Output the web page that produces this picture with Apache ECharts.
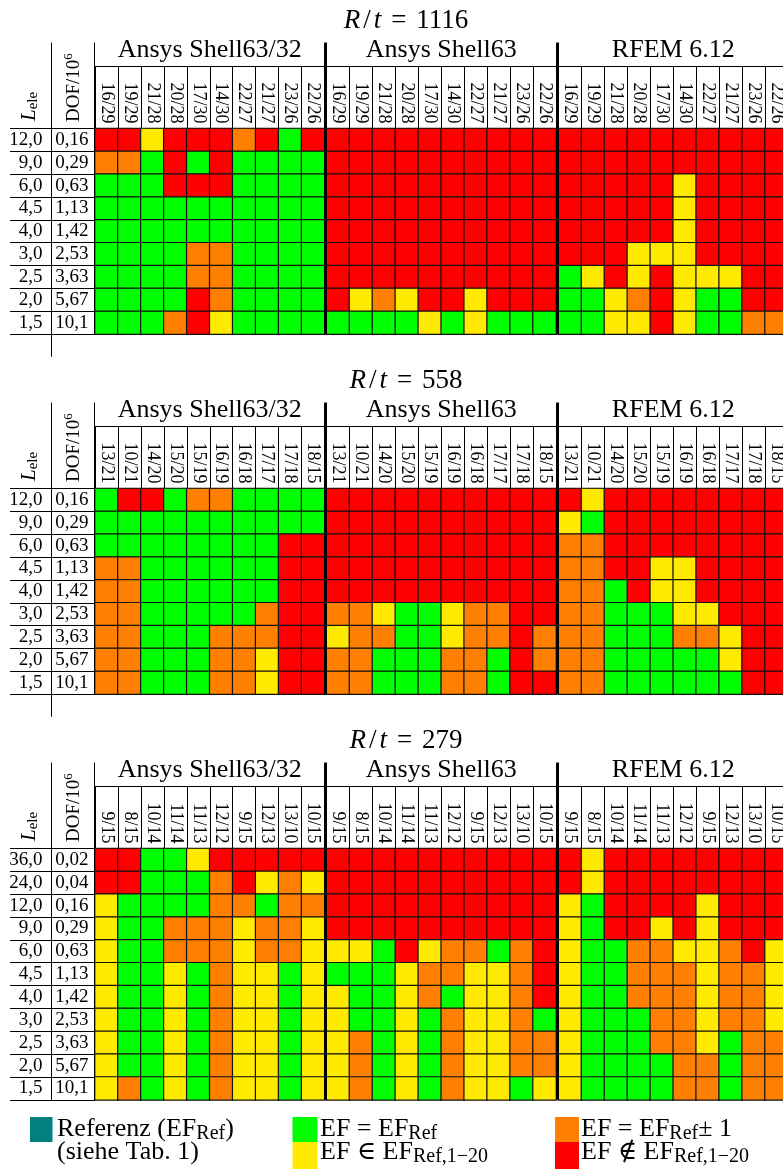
<!DOCTYPE html>
<html>
<head>
<meta charset="utf-8">
<script src="https://cdn.jsdelivr.net/npm/echarts@6/dist/echarts.min.js"></script>
<style>
html, body { margin: 0; padding: 0; background: #fff; }
#main { width: 783px; height: 1171px; }
</style>
</head>
<body>
<div id="main"></div>
<script>
// Ergebnis-Matrizen: G = EF gleich Referenz, Y = in EF 1-20, O = Referenz +-1, R = nicht in 1-20

var groups = ['Ansys Shell63/32', 'Ansys Shell63', 'RFEM 6.12'];

var lele9 = ['12,0', '9,0', '6,0', '4,5', '4,0', '3,0', '2,5', '2,0', '1,5'];
var dof9 = ['0,16', '0,29', '0,63', '1,13', '1,42', '2,53', '3,63', '5,67', '10,1'];
var lele11 = ['36,0', '24,0', '12,0', '9,0', '6,0', '4,5', '4,0', '3,0', '2,5', '2,0', '1,5'];
var dof11 = ['0,02', '0,04', '0,16', '0,29', '0,63', '1,13', '1,42', '2,53', '3,63', '5,67', '10,1'];

var cols1116 = ['16/29', '19/29', '21/28', '20/28', '17/30', '14/30', '22/27', '21/27', '23/26', '22/26'];
var cols558 = ['13/21', '10/21', '14/20', '15/20', '15/19', '16/19', '16/18', '17/17', '17/18', '18/15'];
var cols279 = ['9/15', '8/15', '10/14', '11/14', '11/13', '12/12', '9/15', '12/13', '13/10', '10/15'];

// R/t = 1116
var rt1116_shell6332 = ['RRYRRRORGR', 'OOGRGRGGGG', 'GGGRRRGGGG', 'GGGGGGGGGG', 'GGGGGGGGGG',
	'GGGGOOGGGG', 'GGGGOOGGGG', 'GGGGROGGGG', 'GGGORYGGGG'];
var rt1116_shell63 = ['RRRRRRRRRR', 'RRRRRRRRRR', 'RRRRRRRRRR', 'RRRRRRRRRR', 'RRRRRRRRRR',
	'RRRRRRRRRR', 'RRRRRRRRRR', 'RYOYRRYRRR', 'GGGGYGYGGG'];
var rt1116_rfem = ['RRRRRRRRRR', 'RRRRRRRRRR', 'RRRRRYRRRR', 'RRRRRYRRRR', 'RRRRRYRRRR',
	'RRRYYYRRRR', 'GYRYRYYYRR', 'GGYORYGGRR', 'GGYYRYGGOO'];

// R/t = 558
var rt558_shell6332 = ['GRRGOOGGGG', 'GGGGGGGGGG', 'GGGGGGGGRR', 'OOGGGGGGRR', 'OOGGGGGGRR',
	'OOGGGGGORR', 'OOGGGOOORR', 'OOGGGOOYRR', 'OOGGGOOYRR'];
var rt558_shell63 = ['RRRRRRRRRR', 'RRRRRRRRRR', 'RRRRRRRRRR', 'RRRRRRRRRR', 'RRRRRRRRRR',
	'OOYGGYOORR', 'YOOGGYOORO', 'OOGGGOOGRO', 'OOGGGOOGRR'];
var rt558_rfem = ['RYRRRRRRRR', 'YGRRRRRRRR', 'OORRRRRRRR', 'OORRYYRRRR', 'OOGRYYRRRR',
	'OOGGGYYRRR', 'OOGGGOOYRR', 'OOGGGGGYRR', 'OOGGGGGGRR'];

// R/t = 279
var rt279_shell6332 = ['RRGGYRRRRR', 'RRGGGORYOY', 'YGGGGOOGOO', 'YGGOOOYOOY', 'YGGOOOYOOY',
	'YGGYGOYYGY', 'YGGYGOYYGY', 'YGGYGOYYGY', 'YGGYGOYYGY', 'YGGYGOYYGY', 'YOGYGOYYGY'];
var rt279_shell63 = ['RRRRRRRRRR', 'RRRRRRRRRR', 'RRRRRRRRRR', 'RRRRRRRRRR', 'YYGRYOOGOR',
	'GGGYOOYYOR', 'YGGYOGYYOR', 'YGGYGOYYOG', 'YOGYGOYYOO', 'YOGYGOYYOO', 'YOGYGOYYGY'];
var rt279_rfem = ['RYRRRRRRRR', 'RYRRRRRRRR', 'YGRRRRYRRR', 'YGRRYRYRRR', 'YGGOOYYORY',
	'YGGOOOYOOY', 'YGGOOOYOOY', 'YGGGOOYOOY', 'YGGGOOYGOO', 'YGGGGOOGOO', 'YGGGGOOGOO'];

var panels = [
	{ rt: '1116', cols: cols1116, lele: lele9, dof: dof9, cells: [rt1116_shell6332, rt1116_shell63, rt1116_rfem], tail: 22.5 },
	{ rt: '558', cols: cols558, lele: lele9, dof: dof9, cells: [rt558_shell6332, rt558_shell63, rt558_rfem], tail: 22.5 },
	{ rt: '279', cols: cols279, lele: lele11, dof: dof11, cells: [rt279_shell6332, rt279_shell63, rt279_rfem], tail: 0 }
];

var SERIF = "'Liberation Serif', 'DejaVu Serif', serif";
var codeOf = { G: 0, Y: 1, O: 2, R: 3 };
var GREEN = '#00ff00', YELLOW = '#ffea00', ORANGE = '#ff8000', RED = '#ff0000', TEAL = '#008080';

// Layout
var PANEL_TOP = [0, 360, 720];
var GRID_LEFT = [95, 326.5, 558.5];
var GRID_W = 229.5;
var ROW_H = 22.85;
var RULE_TOP = 42.5;
var HEAD_LINE = 66.5;
var TABLE_TOP = 128.5;

function cellData(rows) {
	var out = [];
	for (var r = 0; r < rows.length; r++) {
		for (var c = 0; c < rows[r].length; c++) {
			out.push([c, r, codeOf[rows[r].charAt(c)]]);
		}
	}
	return out;
}

function vline(x, y1, y2, w) {
	return {
		type : 'line',
		z : 100,
		shape : { x1 : x, y1 : y1, x2 : x, y2 : y2 },
		style : { stroke : '#000', lineWidth : w || 1 }
	};
}

var grids = [], xAxes = [], yAxes = [], series = [], titles = [], graphics = [];

panels.forEach(function(p, pi) {
	var T = PANEL_TOP[pi];
	var tableH = p.lele.length * ROW_H;
	var bottom = T + TABLE_TOP + tableH;

	titles.push({
		text : '{i|R}{sl|/}{i|t}{eq|=}' + p.rt,
		left : 401,
		top : T + 2,
		textAlign : 'center',
		textStyle : {
			fontFamily : SERIF,
			fontSize : 27,
			fontWeight : 'normal',
			color : '#000',
			rich : {
				i : { fontFamily : SERIF, fontSize : 27, fontStyle : 'italic', color : '#000' },
				sl : { fontFamily : SERIF, fontSize : 27, color : '#000', padding : [0, 3, 0, 3] },
				eq : { fontFamily : SERIF, fontSize : 27, color : '#000', padding : [0, 10, 0, 10] }
			}
		}
	});

	for (var g = 0; g < 3; g++) {
		var gi = grids.length;
		grids.push({
			left : GRID_LEFT[g],
			top : T + TABLE_TOP,
			width : GRID_W,
			height : tableH,
			outerBoundsMode : 'none',
			containLabel : false
		});

		var xi = xAxes.length;
		xAxes.push({
			type : 'category',
			gridIndex : gi,
			position : 'top',
			data : p.cols,
			axisLine : { show : true, lineStyle : { color : '#000', width : 1 } },
			axisTick : { show : true, interval : 0, length : TABLE_TOP - HEAD_LINE, lineStyle : { color : '#000', width : 1 } },
			axisLabel : { interval : 0, rotate : 90, margin : 5, fontFamily : SERIF, fontSize : 18, color : '#000' },
			splitLine : { show : false }
		});
		xAxes.push({
			type : 'category',
			gridIndex : gi,
			position : 'top',
			offset : TABLE_TOP - HEAD_LINE,
			data : p.cols,
			axisLine : { show : true, lineStyle : { color : '#000', width : 1 } },
			axisTick : { show : false },
			axisLabel : { show : false },
			splitLine : { show : false },
			name : groups[g],
			nameLocation : 'middle',
			nameGap : 3,
			nameTextStyle : { fontFamily : SERIF, fontSize : 26, color : '#000' }
		});

		var yi = yAxes.length;
		if (g === 0) {
			yAxes.push({
				type : 'category',
				gridIndex : gi,
				position : 'left',
				inverse : true,
				data : p.dof,
				axisLine : { show : false },
				axisTick : { show : true, interval : 0, length : 85, lineStyle : { color : '#000', width : 1 } },
				axisLabel : { interval : 0, margin : 6.5, fontFamily : SERIF, fontSize : 19, color : '#000' },
				splitLine : { show : false }
			});
			yAxes.push({
				type : 'category',
				gridIndex : gi,
				position : 'left',
				inverse : true,
				offset : 43,
				data : p.lele,
				axisLine : { show : false },
				axisTick : { show : false },
				axisLabel : { interval : 0, margin : 9.5, fontFamily : SERIF, fontSize : 19, color : '#000' },
				splitLine : { show : false }
			});
		} else {
			yAxes.push({ type : 'category', gridIndex : gi, position : 'left', inverse : true, data : p.dof, show : false });
		}

		series.push({
			type : 'heatmap',
			name : groups[g] + ' ' + p.rt,
			xAxisIndex : xi,
			yAxisIndex : yi,
			data : cellData(p.cells[g]),
			itemStyle : { borderColor : '#111', borderWidth : 1.2 },
			emphasis : { disabled : true }
		});
	}

	// Tabellenlinien
	graphics.push(vline(51.5, T + RULE_TOP, bottom + p.tail));
	graphics.push(vline(94.5, T + RULE_TOP, bottom));
	graphics.push(vline(325.5, T + RULE_TOP, bottom, 3));
	graphics.push(vline(557.5, T + RULE_TOP, bottom, 3));

	// Kopfzeilen L_ele und DOF/10^6
	graphics.push({
		type : 'text',
		z : 100,
		x : 29,
		y : T + 121,
		rotation : Math.PI / 2,
		style : {
			text : '{l|L}{s|ele}',
			align : 'left',
			verticalAlign : 'middle',
			rich : {
				l : { fontFamily : SERIF, fontSize : 21, fontStyle : 'italic', lineHeight : 24, fill : '#000' },
				s : { fontFamily : SERIF, fontSize : 15, lineHeight : 15, verticalAlign : 'bottom', fill : '#000' }
			}
		}
	});
	graphics.push({
		type : 'text',
		z : 100,
		x : 74,
		y : T + 122,
		rotation : Math.PI / 2,
		style : {
			text : '{t|DOF/10}{u|6}',
			align : 'left',
			verticalAlign : 'middle',
			rich : {
				t : { fontFamily : SERIF, fontSize : 19, lineHeight : 24, fill : '#000' },
				u : { fontFamily : SERIF, fontSize : 13, lineHeight : 13, verticalAlign : 'top', fill : '#000' }
			}
		}
	});
});

// Legende
var legRich = {
	t : { fontFamily : SERIF, fontSize : 26, lineHeight : 30, fill : '#000' },
	s : { fontFamily : SERIF, fontSize : 20, lineHeight : 20, verticalAlign : 'bottom', fill : '#000' }
};
function legRect(x, y, w, h, color) {
	return { type : 'rect', shape : { x : x, y : y, width : w, height : h }, style : { fill : color } };
}
function legText(x, y, text) {
	return { type : 'text', x : x, y : y, style : { text : text, align : 'left', verticalAlign : 'middle', rich : legRich } };
}
graphics.push(legRect(30, 1117, 22.5, 25, TEAL));
graphics.push(legRect(292.5, 1117, 25, 25, GREEN));
graphics.push(legRect(292.5, 1142, 25, 27, YELLOW));
graphics.push(legRect(555, 1117, 24, 25, ORANGE));
graphics.push(legRect(555, 1142, 24, 27, RED));
graphics.push(legText(57, 1129, '{t|Referenz (EF}{s|Ref}{t|)}'));
graphics.push(legText(57, 1152, '{t|(siehe Tab. 1)}'));
graphics.push(legText(320, 1129, '{t|EF = EF}{s|Ref}'));
graphics.push(legText(320, 1152, '{t|EF \u2208 EF}{s|Ref,1\u221220}'));
graphics.push(legText(581, 1129, '{t|EF = EF}{s|Ref}{t|\u00b1 1}'));
graphics.push(legText(581, 1152, '{t|EF \u2209 EF}{s|Ref,1\u221220}'));

var chart = echarts.init(document.getElementById('main'));
var option = {
	animation : false,
	backgroundColor : '#fff',
	title : titles,
	grid : grids,
	xAxis : xAxes,
	yAxis : yAxes,
	visualMap : {
		type : 'piecewise',
		show : false,
		dimension : 2,
		pieces : [
			{ value : 0, color : GREEN },
			{ value : 1, color : YELLOW },
			{ value : 2, color : ORANGE },
			{ value : 3, color : RED }
		]
	},
	series : series,
	graphic : graphics
};
chart.setOption(option, true);
</script>
</body>
</html>
